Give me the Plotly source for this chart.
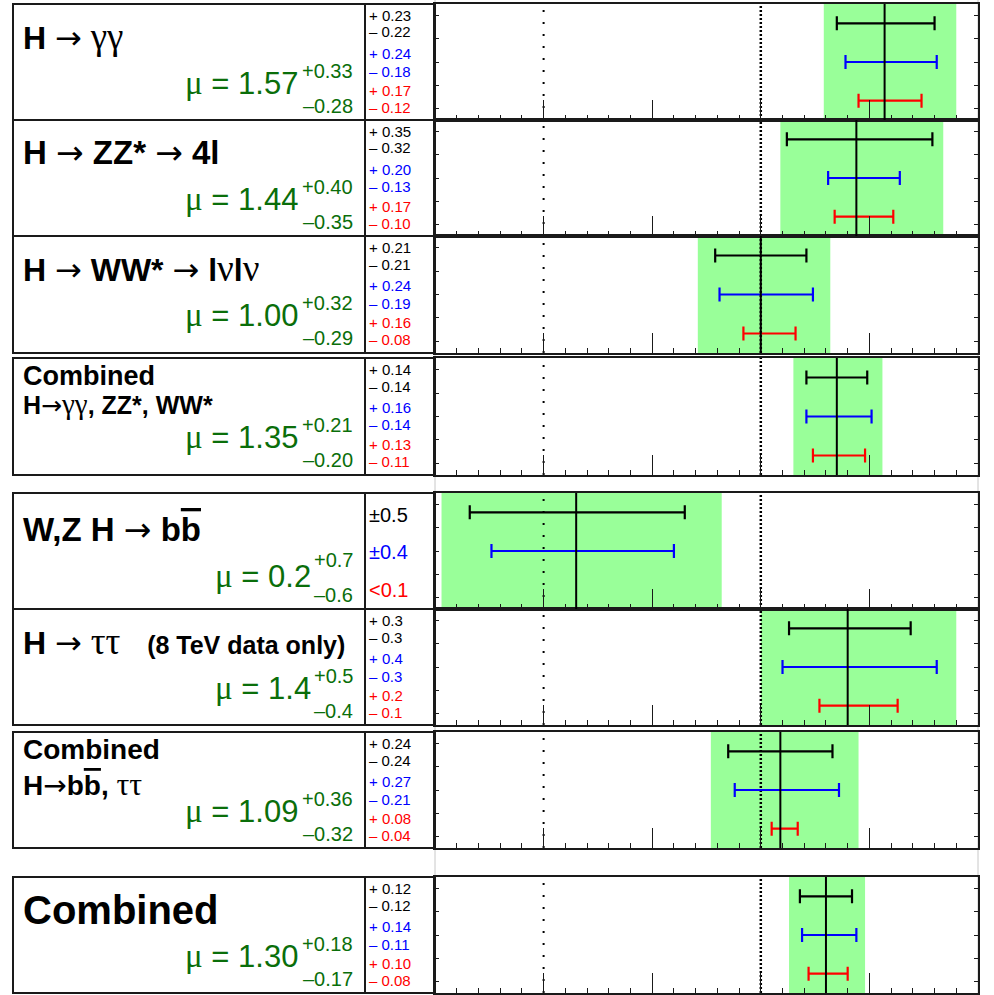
import plotly.graph_objects as go

W, H = 994, 995
FONT = "Liberation Sans"
SERIF = "Liberation Serif"

def g(s, size=None):
    st = f"font-family:{SERIF}"
    if size:
        st += f";font-size:{size}px"
    return f"<span style='{st}'>{s}</span>"

def arr(size=None):
    st = "font-family:DejaVu Sans;font-weight:normal"
    if size:
        st += f";font-size:{size}px"
    return f"<span style='{st}'>→</span>"

# ---------------- data ----------------
mu = [1.57, 1.44, 1.00, 1.35, 0.15, 1.40, 1.09, 1.30]
mu_label = ["1.57", "1.44", "1.00", "1.35", "0.2", "1.4", "1.09", "1.30"]
tot_up = [0.33, 0.40, 0.32, 0.21, 0.67, 0.50, 0.36, 0.18]
tot_dn = [0.28, 0.35, 0.29, 0.20, 0.62, 0.40, 0.32, 0.17]
tot_up_label = ["+0.33", "+0.40", "+0.32", "+0.21", "+0.7", "+0.5", "+0.36", "+0.18"]
tot_dn_label = ["–0.28", "–0.35", "–0.29", "–0.20", "–0.6", "–0.4", "–0.32", "–0.17"]
stat_up = [0.23, 0.35, 0.21, 0.14, 0.50, 0.29, 0.24, 0.12]
stat_dn = [0.22, 0.32, 0.21, 0.14, 0.49, 0.27, 0.24, 0.12]
syst_up = [0.24, 0.20, 0.24, 0.16, 0.45, 0.41, 0.27, 0.14]
syst_dn = [0.18, 0.13, 0.19, 0.14, 0.39, 0.30, 0.21, 0.11]
theo_up = [0.17, 0.17, 0.16, 0.13, None, 0.23, 0.08, 0.10]
theo_dn = [0.12, 0.10, 0.08, 0.11, None, 0.13, 0.04, 0.08]
stat_label = [("+ 0.23", "– 0.22"), ("+ 0.35", "– 0.32"), ("+ 0.21", "– 0.21"),
              ("+ 0.14", "– 0.14"), ("±0.5",), ("+ 0.3", "– 0.3"),
              ("+ 0.24", "– 0.24"), ("+ 0.12", "– 0.12")]
syst_label = [("+ 0.24", "– 0.18"), ("+ 0.20", "– 0.13"), ("+ 0.24", "– 0.19"),
              ("+ 0.16", "– 0.14"), ("±0.4",), ("+ 0.4", "– 0.3"),
              ("+ 0.27", "– 0.21"), ("+ 0.14", "– 0.11")]
theo_label = [("+ 0.17", "– 0.12"), ("+ 0.17", "– 0.10"), ("+ 0.16", "– 0.08"),
              ("+ 0.13", "– 0.11"), ("&lt;0.1",), ("+ 0.2", "– 0.1"),
              ("+ 0.08", "– 0.04"), ("+ 0.10", "– 0.08")]

bbar = "b<span style='text-decoration:overline'>b</span>"
titles = [
    [("<b>H</b> " + arr() + " " + g("γγ", 37), 32)],
    [("<b>H</b> " + arr() + " <b>ZZ*</b> " + arr() + " <b>4l</b>", 33)],
    [("<b>H</b> " + arr() + " <b>WW*</b> " + arr() + " <b>l</b>" + g("ν", 37) + "<b>l</b>" + g("ν", 37), 32)],
    [("<b>Combined</b>", 27), ("<b>H</b>" + arr() + g("γγ", 29) + "<b>, ZZ*, WW*</b>", 25)],
    [("<b>W,Z H</b> " + arr() + " <b>" + bbar + "</b>", 33)],
    [("<b>H</b> " + arr() + " " + g("ττ", 37) + "   <span style='font-size:25px'><b>(8 TeV data only)</b></span>", 32)],
    [("<b>Combined</b>", 28), ("<b>H</b>" + arr() + "<b>" + bbar + ", </b>" + g("ττ", 32), 28)],
    [("<b>Combined</b>", 40)],
]

# ---------------- layout geometry ----------------
tops = [4, 120, 236, 358, 493, 609, 732, 877]
bots = [120, 236, 353, 475, 609, 725, 848, 993]
XL, XM, XP, XR = 13, 365, 435, 978

GREEN_BAND = "#99ff99"
GREEN_TXT = "#0a6e0a"
FRAME = "#1a1a1a"

fig = go.Figure()
shapes, annotations = [], []
layout = dict(width=W, height=H, margin=dict(l=0, r=0, t=0, b=0),
              paper_bgcolor="white", plot_bgcolor="white", showlegend=False)

def py(v):
    return 1 - v / H

def ann(text, x, base, size, color="black", anchor="left", family=FONT):
    c = base - 0.35 * size
    annotations.append(dict(x=x / W, y=py(c), xref="paper", yref="paper",
                            xanchor=anchor, yanchor="middle", text=text,
                            showarrow=False, font=dict(family=family, size=size, color=color)))

# background pad lines
for xx in (XP, XR):
    shapes.append(dict(type="line", xref="paper", yref="paper", x0=xx / W, x1=xx / W,
                       y0=0, y1=1, line=dict(color="#c8c8c8", width=1), layer="below"))

for i in range(8):
    n = i + 1
    xs = "" if n == 1 else str(n)
    xa, ya = "x" + xs, "y" + xs
    t, b = tops[i], bots[i]
    layout["xaxis" + xs] = dict(domain=[XP / W, XR / W], range=[-0.5, 2.0], anchor=ya,
                                showgrid=False, zeroline=False, showticklabels=False,
                                showline=True, linecolor=FRAME, linewidth=2, mirror=True,
                                ticks="inside", ticklen=20, tickwidth=1.3, tickcolor=FRAME,
                                tick0=0, dtick=0.5,
                                minor=dict(ticks="inside", ticklen=5, dtick=0.1,
                                           tickwidth=1.3, tickcolor=FRAME, showgrid=False))
    layout["yaxis" + xs] = dict(domain=[py(b), py(t)], range=[0, 3], anchor=xa,
                                showgrid=False, zeroline=False, showticklabels=False,
                                showline=True, linecolor=FRAME, linewidth=2, mirror="allticks",
                                ticks="inside", ticklen=4, tickwidth=1, tickcolor=FRAME,
                                tickvals=[0.3, 0.9, 1.5, 2.1, 2.7])
    dom = ya + " domain"
    # total uncertainty band
    shapes.append(dict(type="rect", xref=xa, yref=dom, x0=mu[i] - tot_dn[i], x1=mu[i] + tot_up[i],
                       y0=0, y1=1, fillcolor=GREEN_BAND, line=dict(width=0), layer="below"))
    # reference dotted lines
    shapes.append(dict(type="line", xref=xa, yref=dom, x0=0, x1=0, y0=0, y1=1, layer="below",
                       line=dict(color="black", width=2, dash="2px,10px")))
    shapes.append(dict(type="line", xref=xa, yref=dom, x0=1, x1=1, y0=0, y1=1, layer="below",
                       line=dict(color="black", width=2.5, dash="2px,2px")))
    # central value
    shapes.append(dict(type="line", xref=xa, yref=dom, x0=mu[i], x1=mu[i], y0=0, y1=1,
                       line=dict(color="black", width=2)))
    # error bars
    for yv, up, dn, col in ((2.5, stat_up, stat_dn, "black"), (1.5, syst_up, syst_dn, "#0000ff"),
                            (0.5, theo_up, theo_dn, "#ff0000")):
        if up[i] is None:
            continue
        fig.add_trace(go.Scatter(x=[mu[i]], y=[yv], xaxis=xa, yaxis=ya, mode="markers",
                                 marker=dict(size=1, color=col, opacity=0),
                                 error_x=dict(type="data", symmetric=False, array=[up[i]],
                                              arrayminus=[dn[i]], color=col, thickness=2.2, width=7),
                                 hoverinfo="skip"))
    # left boxes
    for x0, x1 in ((XL, XM), (XM, XP)):
        shapes.append(dict(type="rect", xref="paper", yref="paper", x0=x0 / W, x1=x1 / W,
                           y0=py(b), y1=py(t), line=dict(color=FRAME, width=2), layer="above"))
    # titles
    if len(titles[i]) == 1:
        txt, sz = titles[i][0]
        base = {4: 48, 7: 47}.get(i, 44)
        ann(txt, 21, t + base, sz)
    else:
        (t1, s1), (t2, s2) = titles[i]
        ann(t1, 21, t + 27, s1)
        ann(t2, 21, t + (55 if i == 3 else 62), s2)
    # mu text
    off = 4 if i == 4 else 0
    mright = 300 if len(mu_label[i]) == 4 else 313
    ann(g("μ", 33) + " = " + mu_label[i], mright, t + 90 + off, 31, GREEN_TXT, anchor="right")
    ann(tot_up_label[i], 355, t + 74, 20, GREEN_TXT, anchor="right")
    ann(tot_dn_label[i], 355, t + 109, 20, GREEN_TXT, anchor="right")
    # error column
    if i == 4:
        for lab, c, yc in ((stat_label, "black", 22), (syst_label, "#0000ff", 59), (theo_label, "#ff0000", 97)):
            ann(lab[i][0], 367, t + yc + 0.35 * 20, 20, c)
    else:
        ys = [11.5, 28, 49.5, 67, 86.5, 103.5]
        k = 0
        for lab, c in ((stat_label, "black"), (syst_label, "#0000ff"), (theo_label, "#ff0000")):
            for s in lab[i]:
                ann(s, 367, t + ys[k] + 0.35 * 15, 15, c)
                k += 1

layout["shapes"] = shapes
layout["annotations"] = annotations
fig.update_layout(**layout)
fig.write_html("out.html")
